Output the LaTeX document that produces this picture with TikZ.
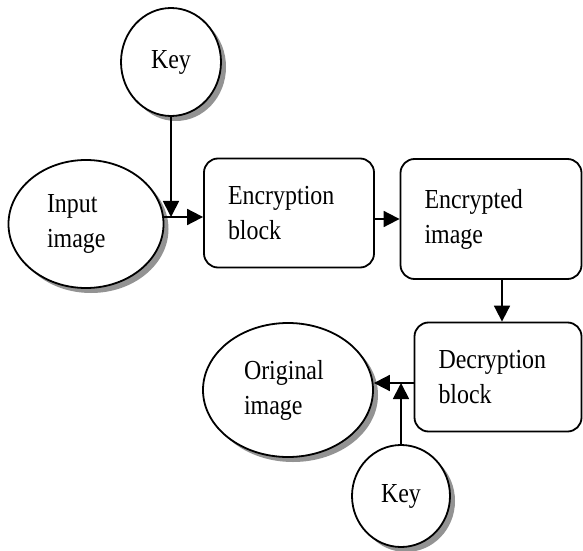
\documentclass[tikz,border=0pt]{standalone}
\usepackage{fontspec}
\setmainfont{Liberation Serif}[FakeStretch=0.87]
\usetikzlibrary{shapes.geometric,arrows.meta}
\tikzset{>={Triangle[length=16bp,width=16bp]}}
\tikzset{
  txt/.style = {font=\fontsize{27.5bp}{35bp}\selectfont, align=left, inner sep=0pt},
  blob/.style = {txt, ellipse, draw, line width=1.8bp, fill=white,
    preaction={fill=gray!85, transform canvas={shift={(5bp,-5bp)}}}},
  block/.style = {txt, draw, line width=1.8bp, rounded corners=14bp, fill=white}
}

\begin{document}
\begin{tikzpicture}[x=1bp, y=-1bp]
  \useasboundingbox (0,0) rectangle (583,551);
  % encryption side
  \node[blob, minimum width=100bp, minimum height=108bp] (key1) at (171,62) {Key};
  \node[blob, minimum width=155bp, minimum height=128bp, text width=78bp] (input) at (86,224) {Input\\image};
  \node[block, minimum width=170bp, minimum height=109bp, text width=122bp] (enc) at (289,213) {Encryption\\block};
  \node[block, minimum width=181bp, minimum height=120bp, text width=133bp] (encd) at (491,219) {Encrypted\\image};
  % decryption side
  \node[block, minimum width=167bp, minimum height=109bp, text width=119bp] (dec) at (498,377) {Decryption\\block};
  \node[blob, minimum width=170bp, minimum height=134bp, text width=88bp] (orig) at (288,390) {Original\\image};
  \node[blob, minimum width=98bp, minimum height=102bp] (key2) at (401,496) {Key};
  \coordinate (join1) at (171,217);
  \coordinate (join2) at (401,383);
  % arrows
  \begin{scope}[line width=1.8bp]
    \draw[->] (input.east |- join1) -- (enc.west |- join1);
    \draw[->] (key1) -- (join1);
    \draw[->] (enc.east |- encd) -- (encd.west);
    \draw[->] (encd.south -| 502,0) -- (dec.north -| 502,0);
    \draw[->] (dec.west |- join2) -- (orig.east |- join2);
    \draw[->] (key2) -- (join2);
  \end{scope}
\end{tikzpicture}
\end{document}
